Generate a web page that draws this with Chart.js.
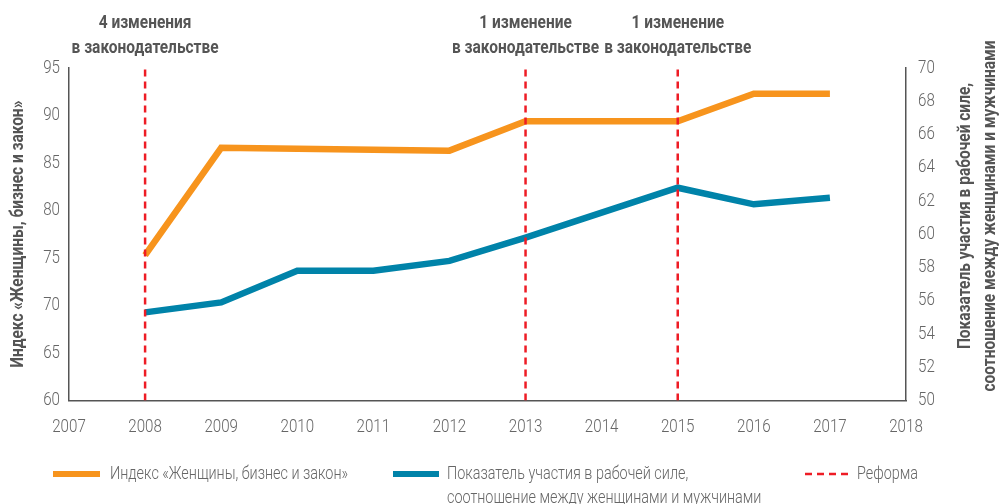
<!DOCTYPE html>
<html>
<head>
<meta charset="utf-8">
<script src="https://cdn.jsdelivr.net/npm/chart.js@4.4.1/dist/chart.umd.min.js"></script>
<style>
  html, body { margin: 0; padding: 0; background: #fff; }
  #wrap { width: 1000px; height: 504px; position: relative; }
</style>
</head>
<body>
<div id="wrap"><canvas id="grafico" width="1000" height="504"></canvas></div>
<script>
// === DADOS ===
const anos = [2008, 2009, 2010, 2011, 2012, 2013, 2014, 2015, 2016, 2017];
const indiceWBL = [75.3, 86.6, 86.5, 86.4, 86.3, 89.4, 89.4, 89.4, 92.3, 92.3];
const participacao = [55.3, 55.9, 57.8, 57.8, 58.4, 59.8, 61.3, 62.8, 61.8, 62.2];
const anosReforma = [2008, 2013, 2015];
const notasReforma = ['4 изменения', '1 изменение', '1 изменение'];
const notaLinha2 = 'в законодательстве';
const eixoX = [2007, 2018];
const eixoEsq = [60, 95];
const eixoDir = [50, 70];

const FONTE = 'Roboto, "DejaVu Sans", sans-serif';
const LARANJA = '#F7941D';
const AZUL = '#0083A9';
const VERMELHO = '#EE1C25';
const CINZA = '#555555';
const CINZA_CLARO = '#666666';

const serie = (vals) => anos.map((a, i) => ({ x: a, y: vals[i] }));

const reformaDatasets = anosReforma.map(a => ({
  label: 'Реформа',
  data: [{ x: a, y: eixoEsq[0] }, { x: a, y: eixoEsq[1] }],
  yAxisID: 'y',
  borderColor: VERMELHO,
  borderWidth: 2.5,
  borderDash: [7, 5],
  pointRadius: 0,
  fill: false
}));

// texto "condensado": escala horizontal sobre Roboto
function texto(c, str, x, y, font, align, sx, rot) {
  c.save();
  c.translate(x, y);
  if (rot) c.rotate(rot);
  c.scale(sx, 1);
  c.font = font;
  c.textAlign = align;
  c.textBaseline = 'middle';
  c.fillText(str, 0, 0);
  c.restore();
}

// === DECORACAO (ticks, titulos, notas, legenda) ===
const decoracao = {
  id: 'decoracao',
  afterDraw(chart) {
    const c = chart.ctx;
    const area = chart.chartArea;
    const { x, y, y1 } = chart.scales;
    const bold = 'bold 18px ' + FONTE;
    const leve = '300 18px ' + FONTE;
    const normal = '300 18px ' + FONTE;
    const SB = 0.86, SN = 0.8, ST = 0.84;
    c.save();

    // rotulos dos eixos (a partir dos ticks do Chart.js)
    c.fillStyle = CINZA_CLARO;
    x.ticks.forEach((t, i) => texto(c, String(t.value), x.getPixelForTick(i), area.bottom + 27, leve, 'center', ST));
    y.ticks.forEach((t, i) => texto(c, String(t.value), area.left - 9, y.getPixelForTick(i), leve, 'right', ST));
    y1.ticks.forEach((t, i) => texto(c, String(t.value), area.right + 12, y1.getPixelForTick(i), leve, 'left', ST));

    // notas de reforma no topo
    c.fillStyle = CINZA;
    anosReforma.forEach((a, i) => {
      const px = x.getPixelForValue(a);
      texto(c, notasReforma[i], px, 23, bold, 'center', SB);
      texto(c, notaLinha2, px, 48, bold, 'center', SB);
    });

    // titulos dos eixos
    const meio = (area.top + area.bottom) / 2;
    texto(c, 'Индекс «Женщины, бизнес и закон»', 18, meio, bold, 'center', SB, -Math.PI / 2);
    texto(c, 'Показатель участия в рабочей силе,', 965, 216, bold, 'center', SB, -Math.PI / 2);
    texto(c, 'соотношение между женщинами и мужчинами', 990, 216, bold, 'center', SB, -Math.PI / 2);

    // legenda
    c.fillStyle = CINZA_CLARO;
    c.lineCap = 'butt';
    c.strokeStyle = LARANJA;
    c.lineWidth = 6;
    c.beginPath(); c.moveTo(53, 474); c.lineTo(100, 474); c.stroke();
    texto(c, 'Индекс «Женщины, бизнес и закон»', 110, 474, normal, 'left', SN);

    c.strokeStyle = AZUL;
    c.beginPath(); c.moveTo(393, 474); c.lineTo(439, 474); c.stroke();
    texto(c, 'Показатель участия в рабочей силе,', 447, 474, normal, 'left', SN);
    texto(c, 'соотношение между женщинами и мужчинами', 447, 498, normal, 'left', SN);

    c.strokeStyle = VERMELHO;
    c.lineWidth = 2.5;
    c.setLineDash([7, 5]);
    c.beginPath(); c.moveTo(805, 474); c.lineTo(848, 474); c.stroke();
    c.setLineDash([]);
    texto(c, 'Реформа', 857, 474, normal, 'left', SN);

    c.restore();
  }
};

new Chart(document.getElementById('grafico').getContext('2d'), {
  type: 'line',
  data: {
    datasets: [
      ...reformaDatasets,
      {
        label: 'Индекс «Женщины, бизнес и закон»',
        data: serie(indiceWBL),
        yAxisID: 'y',
        borderColor: LARANJA,
        borderWidth: 6.5,
        borderCapStyle: 'butt',
        borderJoinStyle: 'miter',
        pointRadius: 0,
        tension: 0
      },
      {
        label: 'Показатель участия в рабочей силе',
        data: serie(participacao),
        yAxisID: 'y1',
        borderColor: AZUL,
        borderWidth: 6.5,
        borderCapStyle: 'butt',
        borderJoinStyle: 'miter',
        pointRadius: 0,
        tension: 0
      }
    ]
  },
  options: {
    responsive: false,
    animation: false,
    devicePixelRatio: 1,
    layout: { padding: { top: 68, left: 0, right: 0, bottom: 0 } },
    plugins: {
      legend: { display: false },
      tooltip: { enabled: false }
    },
    scales: {
      x: {
        type: 'linear',
        min: eixoX[0],
        max: eixoX[1],
        grid: { display: false },
        border: { display: true, color: CINZA, width: 1.5 },
        ticks: { stepSize: 1, display: false },
        afterFit: s => { s.height = 103.5; }
      },
      y: {
        position: 'left',
        min: eixoEsq[0],
        max: eixoEsq[1],
        grid: { display: false },
        border: { display: true, color: CINZA, width: 1.5 },
        ticks: { stepSize: 5, display: false },
        afterFit: s => { s.width = 69; }
      },
      y1: {
        position: 'right',
        min: eixoDir[0],
        max: eixoDir[1],
        grid: { display: false },
        border: { display: true, color: CINZA, width: 1.5 },
        ticks: { stepSize: 2, display: false },
        afterFit: s => { s.width = 94; }
      }
    }
  },
  plugins: [decoracao]
});
</script>
</body>
</html>
